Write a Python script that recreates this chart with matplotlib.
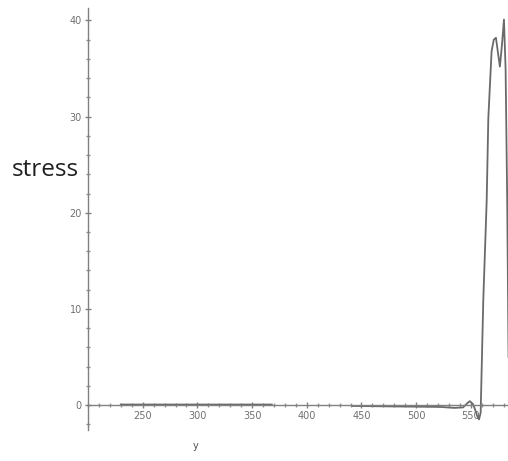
import matplotlib
matplotlib.use("Agg")
import matplotlib.pyplot as plt
import numpy as np
from matplotlib.ticker import MultipleLocator

# data
y_vals = [230, 250, 300, 350, 368, np.nan, 442, 480, 522, 535, 543, 546, 549, 552, 554,
          556, 557.5, 559, 561.4, 564.5, 566, 569, 571, 573, 575, 576.6, 578.5,
          580.3, 581.8, 583.3, 584.5]
stress = [0.05, 0.05, 0.05, 0.05, 0.05, np.nan, -0.1, -0.15, -0.2, -0.3, -0.25, 0.1, 0.4, 0.1, -0.5,
          -1.2, -1.5, -0.8, 10.9, 21.2, 29.8, 36.8, 38.0, 38.2, 36.5, 35.2, 37.5,
          40.1, 35.0, 21.0, 5.0]
x_ticks = [250, 300, 350, 400, 450, 500, 550]
y_ticks = [0, 10, 20, 30, 40]

W, H = 508, 461
fig = plt.figure(figsize=(W / 100, H / 100), dpi=100)
ax = fig.add_axes([88 / W, 1 - 430 / H, (508 - 88) / W, (430 - 8) / H])
ax.set_xlim(200, 584)
ax.set_ylim(-2.6, 41.3)

ax.plot(y_vals, stress, color="#6a6a6a", lw=1.3)

for s in ["top", "right"]:
    ax.spines[s].set_visible(False)
ax.spines["bottom"].set_position(("data", 0))
ax.spines["left"].set_position(("data", 200))
for s in ["bottom", "left"]:
    ax.spines[s].set_color("#808080")
    ax.spines[s].set_linewidth(1.0)

ax.set_xticks(x_ticks)
ax.set_yticks(y_ticks)
ax.xaxis.set_minor_locator(MultipleLocator(10))
ax.yaxis.set_minor_locator(MultipleLocator(2))
ax.tick_params(axis="both", which="major", direction="inout", length=5, width=1,
               color="#808080", labelsize=7, labelcolor="#707070", pad=2)
ax.tick_params(axis="both", which="minor", direction="inout", length=3, width=1,
               color="#909090")

ax.text(298, -4.3, "y", ha="center", va="center", fontsize=7, color="#505050")
fig.text(12 / W, 1 - 170 / H, "stress", ha="left", va="center", fontsize=17.5,
         family="Open Sans", color="#202020")

fig.savefig("out.png", dpi=100)
